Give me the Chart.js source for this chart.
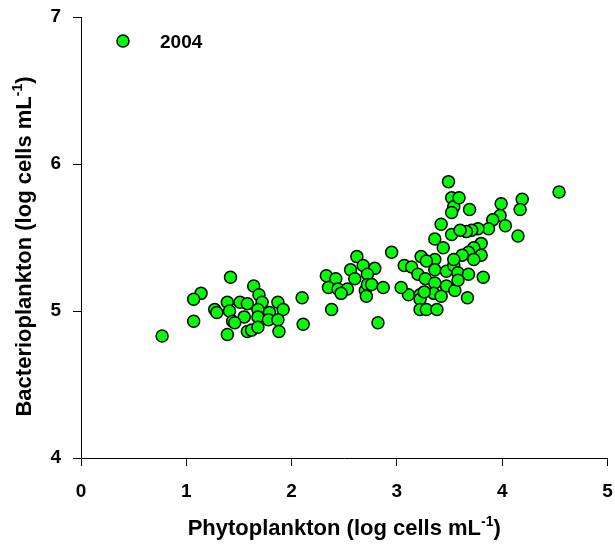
<!DOCTYPE html>
<html>
<head>
<meta charset="utf-8">
<script src="https://cdn.jsdelivr.net/npm/chart.js@4"></script>
<style>
  html, body { margin: 0; padding: 0; background: #fff; overflow: hidden; }
</style>
</head>
<body>
<canvas id="scatterPlot" width="615" height="544"></canvas>
<script>
// values (log cells per mL)
var seriesLabel = '2004';
var phyto = [
  1.42, 1.64, 1.14, 1.07, 1.69, 1.72, 2.10, 1.39, 1.51, 1.58, 1.87, 1.27, 1.29, 1.41, 1.68,
  1.79, 1.92, 1.07, 1.44, 1.55, 1.68, 1.78, 1.87, 1.46, 2.11, 0.77, 1.39, 1.58, 1.62, 1.68,
  1.88,
  2.95, 2.62, 2.68, 2.79, 2.56, 2.33, 2.42, 2.60, 2.72, 2.35, 2.44, 2.53, 2.47, 2.70, 2.72,
  2.76, 2.87, 2.71, 2.38, 2.82,
  3.49, 3.52, 3.54, 3.52, 3.42, 3.52, 3.36, 3.44, 3.23, 3.36, 3.28, 3.07, 3.14, 3.36, 3.47,
  3.54, 3.20, 3.27, 3.36, 3.47, 3.55, 3.11, 3.22, 3.35, 3.42, 3.04, 3.22, 3.22, 3.28, 3.38,
  4.54, 3.59, 3.69, 4.19, 4.17, 3.99, 3.98, 3.91, 4.03, 4.15, 3.87, 3.77, 3.71, 3.66, 3.60,
  3.80, 3.73, 3.68, 3.80, 3.62, 3.54, 3.73, 3.58, 3.68, 3.82, 3.58, 3.26, 3.67
];
var bacterio = [
  5.23, 5.17, 5.12, 5.08, 5.11, 5.06, 5.09, 5.06, 5.06, 5.05, 5.06, 5.01, 4.99, 5.00, 5.01,
  4.99, 5.01, 4.93, 4.93, 4.96, 4.96, 4.94, 4.94, 4.92, 4.91, 4.83, 4.84, 4.86, 4.87, 4.89,
  4.86,
  5.40, 5.37, 5.31, 5.29, 5.28, 5.24, 5.22, 5.22, 5.25, 5.16, 5.15, 5.15, 5.12, 5.14, 5.18,
  5.18, 5.16, 5.10, 5.01, 4.92,
  5.88, 5.77, 5.71, 5.67, 5.59, 5.52, 5.49, 5.43, 5.37, 5.35, 5.34, 5.31, 5.30, 5.28, 5.27,
  5.31, 5.25, 5.22, 5.19, 5.17, 5.14, 5.11, 5.11, 5.12, 5.10, 5.16, 5.08, 5.01, 5.01, 5.01,
  5.81, 5.77, 5.69, 5.76, 5.69, 5.73, 5.65, 5.62, 5.58, 5.51, 5.56, 5.56, 5.55, 5.54, 5.55,
  5.46, 5.43, 5.40, 5.38, 5.38, 5.35, 5.35, 5.26, 5.25, 5.23, 5.21, 5.13, 5.09
];
var xTitle = ['Phytoplankton (log cells mL', '-1', ')'];
var yTitle = ['Bacterioplankton (log cells mL', '-1', ')'];

var FONT = "'Liberation Sans', Arial, sans-serif";
var GREEN = '#00ff00';

var points = phyto.map(function (x, i) { return { x: x, y: bacterio[i] }; });

// draws "text^sup text" centred on x
function drawSupText(ctx, parts, cx, baseline, size) {
    var big = 'bold ' + size + 'px ' + FONT;
    var small = 'bold ' + Math.round(size * 0.62) + 'px ' + FONT;
    ctx.font = big;
    var w1 = ctx.measureText(parts[0]).width;
    var w3 = ctx.measureText(parts[2]).width;
    ctx.font = small;
    var w2 = ctx.measureText(parts[1]).width;
    var x = cx - (w1 + w2 + w3) / 2;
    ctx.textAlign = 'left';
    ctx.textBaseline = 'alphabetic';
    ctx.font = big;
    ctx.fillText(parts[0], x, baseline);
    ctx.font = small;
    ctx.fillText(parts[1], x + w1, baseline - size * 0.42);
    ctx.font = big;
    ctx.fillText(parts[2], x + w1 + w2, baseline);
}

var extras = {
    id: 'extras',
    afterDraw: function (chart) {
        var ctx = chart.ctx;
        var a = chart.chartArea;
        ctx.save();
        ctx.fillStyle = '#000';
        drawSupText(ctx, xTitle, (a.left + a.right) / 2, 535, 22);
        ctx.translate(31, (a.top + a.bottom) / 2 + 9);
        ctx.rotate(-Math.PI / 2);
        drawSupText(ctx, yTitle, 0, 0, 22);
        ctx.restore();

        // legend inside the plot
        ctx.save();
        ctx.beginPath();
        ctx.arc(123, 41, 6, 0, Math.PI * 2);
        ctx.fillStyle = GREEN;
        ctx.fill();
        ctx.lineWidth = 1.5;
        ctx.strokeStyle = '#000';
        ctx.stroke();
        ctx.fillStyle = '#000';
        ctx.font = 'bold 19px ' + FONT;
        ctx.textAlign = 'left';
        ctx.textBaseline = 'alphabetic';
        ctx.fillText(seriesLabel, 160, 48);
        ctx.restore();
    }
};

var ctx = document.getElementById('scatterPlot').getContext('2d');
var chart = new Chart(ctx, {
    type: 'scatter',
    data: {
        datasets: [{
            label: seriesLabel,
            data: points,
            backgroundColor: GREEN,
            borderColor: '#000',
            borderWidth: 1.5,
            pointRadius: 6,
            pointHoverRadius: 6
        }]
    },
    options: {
        responsive: false,
        animation: false,
        devicePixelRatio: 1,
        layout: { padding: { left: 0, right: 3, top: 17, bottom: 0 } },
        plugins: {
            legend: { display: false },
            tooltip: { enabled: false }
        },
        scales: {
            x: {
                type: 'linear',
                min: 0,
                max: 5,
                afterFit: function (s) {
                    s.height = 86;
                    s.paddingLeft = 0;
                    s.paddingRight = 0;
                },
                ticks: {
                    stepSize: 1,
                    color: '#000',
                    padding: 14,
                    font: { family: FONT, size: 19, weight: 'bold' }
                },
                grid: { drawOnChartArea: false, drawTicks: true, tickLength: 8, tickColor: '#000' },
                border: { display: true, color: '#000', width: 1 }
            },
            y: {
                min: 4,
                max: 7,
                afterFit: function (s) {
                    s.width = 81;
                    s.paddingTop = 0;
                    s.paddingBottom = 0;
                },
                ticks: {
                    stepSize: 1,
                    color: '#000',
                    padding: 12,
                    font: { family: FONT, size: 19, weight: 'bold' }
                },
                grid: { drawOnChartArea: false, drawTicks: true, tickLength: 8, tickColor: '#000' },
                border: { display: true, color: '#000', width: 1 }
            }
        }
    },
    plugins: [extras]
});
</script>
</body>
</html>
